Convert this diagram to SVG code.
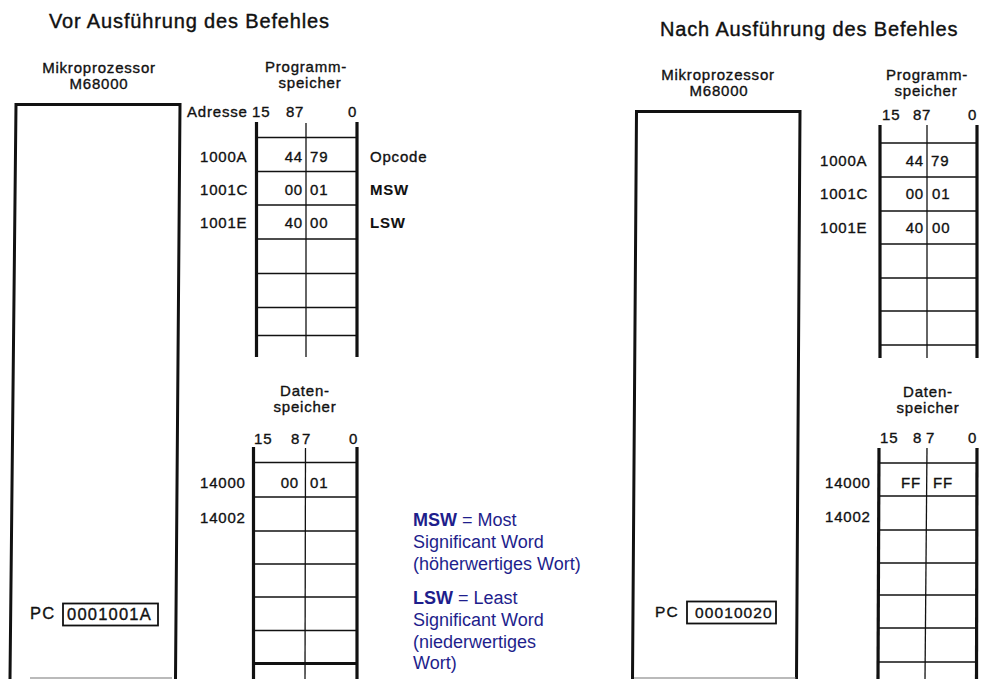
<svg xmlns="http://www.w3.org/2000/svg" width="981" height="679" viewBox="0 0 981 679">
<style>
.t{font-family:"Liberation Sans",Arial,Helvetica,sans-serif;fill:#111;stroke:#111;stroke-width:0.35px;font-size:15px;letter-spacing:0.8px}
.ttl{font-size:20px;letter-spacing:0.85px;stroke-width:0.4px}
.b{font-weight:bold;stroke-width:0.1px}
.c{text-anchor:middle}
.e{text-anchor:end}
.pc{font-size:16.5px;letter-spacing:1.2px}
.pc2{font-size:15.5px;letter-spacing:1.1px}
.lg{font-family:"Liberation Sans",Arial,Helvetica,sans-serif;fill:#1e1e8c;font-size:18px}
.box{fill:none;stroke:#111;stroke-width:3}
.thick{stroke:#111;stroke-width:3.2;fill:none}
.hl{stroke:#111;stroke-width:1.7}
.mid{stroke:#111;stroke-width:1.3}
.pcbox{fill:none;stroke:#111;stroke-width:1.8}
.bot{stroke:#777;stroke-width:1.2}
</style>
<rect width="981" height="679" fill="#fff"/>

<g id="connectors"/>

<g id="title-left">
<text class="t ttl" x="49" y="28">Vor Ausführung des Befehles</text>
</g>

<g id="cpu-left">
<text class="t c" x="99" y="73">Mikroprozessor</text>
<text class="t c" x="99" y="89">M68000</text>
<path class="box" d="M10 679 L16 104.5 L180 104.5 L175.5 679"/>
<line class="bot" x1="30" y1="678" x2="172" y2="678"/>
<text class="t pc" x="30" y="619">PC</text>
<rect class="pcbox" x="63" y="603.5" width="95" height="22"/>
<text class="t pc" x="67" y="620">0001001A</text>
</g>

<g id="progmem-left">
<text class="t c" x="306" y="72">Programm-</text>
<text class="t c" x="310" y="88">speicher</text>
<text class="t" x="187" y="117">Adresse</text>
<text class="t" x="252" y="117">15</text>
<text class="t" x="286" y="117">8</text>
<text class="t" x="295" y="117">7</text>
<text class="t" x="348" y="117">0</text>
<line class="thick" x1="256.5" y1="122" x2="256.5" y2="357"/>
<line class="thick" x1="357" y1="122" x2="357" y2="357"/>
<line class="mid" x1="306" y1="123" x2="306" y2="357"/>
<line class="hl" x1="256.5" y1="137.5" x2="357" y2="137.5"/>
<line class="hl" x1="256.5" y1="171.5" x2="357" y2="171.5"/>
<line class="hl" x1="256.5" y1="205" x2="357" y2="205"/>
<line class="hl" x1="256.5" y1="239" x2="357" y2="239"/>
<line class="hl" x1="256.5" y1="273.5" x2="357" y2="273.5"/>
<line class="hl" x1="256.5" y1="307.5" x2="357" y2="307.5"/>
<line class="hl" x1="256.5" y1="335.5" x2="357" y2="335.5"/>
<text class="t" x="200" y="162">1000A</text>
<text class="t" x="200" y="195">1001C</text>
<text class="t" x="200" y="228">1001E</text>
<text class="t e" x="303" y="162">44</text>
<text class="t" x="310" y="162">79</text>
<text class="t e" x="303" y="195">00</text>
<text class="t" x="310" y="195">01</text>
<text class="t e" x="303" y="228">40</text>
<text class="t" x="310" y="228">00</text>
<text class="t" x="370" y="162">Opcode</text>
<text class="t b" x="370" y="195">MSW</text>
<text class="t b" x="370" y="228">LSW</text>
</g>

<g id="datamem-left">
<text class="t c" x="305" y="396">Daten-</text>
<text class="t c" x="305" y="412">speicher</text>
<text class="t" x="254" y="444">15</text>
<text class="t" x="291" y="444">8</text>
<text class="t" x="302" y="444">7</text>
<text class="t" x="349" y="444">0</text>
<line class="thick" x1="253.5" y1="447" x2="253.5" y2="679"/>
<line class="thick" x1="357" y1="447" x2="357" y2="679"/>
<line class="mid" x1="305.5" y1="448" x2="305" y2="679"/>
<line class="hl" x1="253.5" y1="462.5" x2="357" y2="462.5"/>
<line class="hl" x1="253.5" y1="497" x2="357" y2="497"/>
<line class="hl" x1="253.5" y1="531" x2="357" y2="531"/>
<line class="hl" x1="253.5" y1="564" x2="357" y2="564"/>
<line class="hl" x1="253.5" y1="597" x2="357" y2="597"/>
<line class="hl" x1="253.5" y1="630.5" x2="357" y2="630.5"/>
<line class="thick" x1="253.5" y1="663.5" x2="357" y2="663.5"/>
<text class="t" x="200" y="488">14000</text>
<text class="t" x="200" y="523">14002</text>
<text class="t e" x="299" y="488">00</text>
<text class="t" x="310" y="488">01</text>
</g>

<g id="legend">
<text class="lg" x="413" y="526"><tspan font-weight="bold">MSW</tspan> = Most</text>
<text class="lg" x="413" y="548">Significant Word</text>
<text class="lg" x="413" y="569.5">(höherwertiges Wort)</text>
<text class="lg" x="413" y="604"><tspan font-weight="bold">LSW</tspan> = Least</text>
<text class="lg" x="413" y="626">Significant Word</text>
<text class="lg" x="413" y="648">(niederwertiges</text>
<text class="lg" x="413" y="669">Wort)</text>
</g>

<g id="title-right">
<text class="t ttl" x="660" y="36">Nach Ausführung des Befehles</text>
</g>

<g id="cpu-right">
<text class="t c" x="718" y="80">Mikroprozessor</text>
<text class="t c" x="719" y="96">M68000</text>
<path class="box" d="M632.5 679 L636.5 111.5 L800 111.5 L796.5 679"/>
<line class="bot" x1="634" y1="678" x2="796" y2="678"/>
<text class="t pc2" x="655" y="617">PC</text>
<rect class="pcbox" x="687" y="601.5" width="89" height="22"/>
<text class="t pc2" x="695" y="618">00010020</text>
</g>

<g id="progmem-right">
<text class="t c" x="927" y="80">Programm-</text>
<text class="t c" x="926" y="96">speicher</text>
<text class="t" x="882" y="119.5">15</text>
<text class="t" x="913" y="119.5">8</text>
<text class="t" x="922" y="119.5">7</text>
<text class="t" x="968" y="119.5">0</text>
<line class="thick" x1="880" y1="125" x2="880" y2="358"/>
<line class="thick" x1="977" y1="125" x2="977" y2="358"/>
<line class="mid" x1="927" y1="125" x2="927" y2="358"/>
<line class="hl" x1="880" y1="143" x2="977" y2="143"/>
<line class="hl" x1="880" y1="177" x2="977" y2="177"/>
<line class="hl" x1="880" y1="211" x2="977" y2="211"/>
<line class="hl" x1="880" y1="244" x2="977" y2="244"/>
<line class="hl" x1="880" y1="278" x2="977" y2="278"/>
<line class="hl" x1="880" y1="311" x2="977" y2="311"/>
<line class="hl" x1="880" y1="345" x2="977" y2="345"/>
<text class="t" x="820" y="166">1000A</text>
<text class="t" x="820" y="199">1001C</text>
<text class="t" x="820" y="233">1001E</text>
<text class="t e" x="924" y="166">44</text>
<text class="t" x="931" y="166">79</text>
<text class="t e" x="924" y="199">00</text>
<text class="t" x="932" y="199">01</text>
<text class="t e" x="924" y="233">40</text>
<text class="t" x="932" y="233">00</text>
</g>

<g id="datamem-right">
<text class="t c" x="928" y="397">Daten-</text>
<text class="t c" x="928" y="413">speicher</text>
<text class="t" x="880" y="443">15</text>
<text class="t" x="913" y="443">8</text>
<text class="t" x="926" y="443">7</text>
<text class="t" x="968" y="443">0</text>
<line class="thick" x1="879" y1="448" x2="878" y2="679"/>
<line class="thick" x1="977" y1="448" x2="976.5" y2="679"/>
<line class="mid" x1="927" y1="448" x2="925" y2="679"/>
<line class="hl" x1="879" y1="463" x2="977" y2="463"/>
<line class="hl" x1="879" y1="496" x2="977" y2="496"/>
<line class="hl" x1="879" y1="530" x2="977" y2="530"/>
<line class="hl" x1="879" y1="563" x2="977" y2="563"/>
<line class="hl" x1="879" y1="595" x2="977" y2="595"/>
<line class="hl" x1="879" y1="628" x2="977" y2="628"/>
<line class="hl" x1="879" y1="662" x2="977" y2="662"/>
<text class="t" x="825" y="488">14000</text>
<text class="t" x="825" y="522">14002</text>
<text class="t e" x="921" y="488">FF</text>
<text class="t" x="933" y="488">FF</text>
</g>
</svg>
